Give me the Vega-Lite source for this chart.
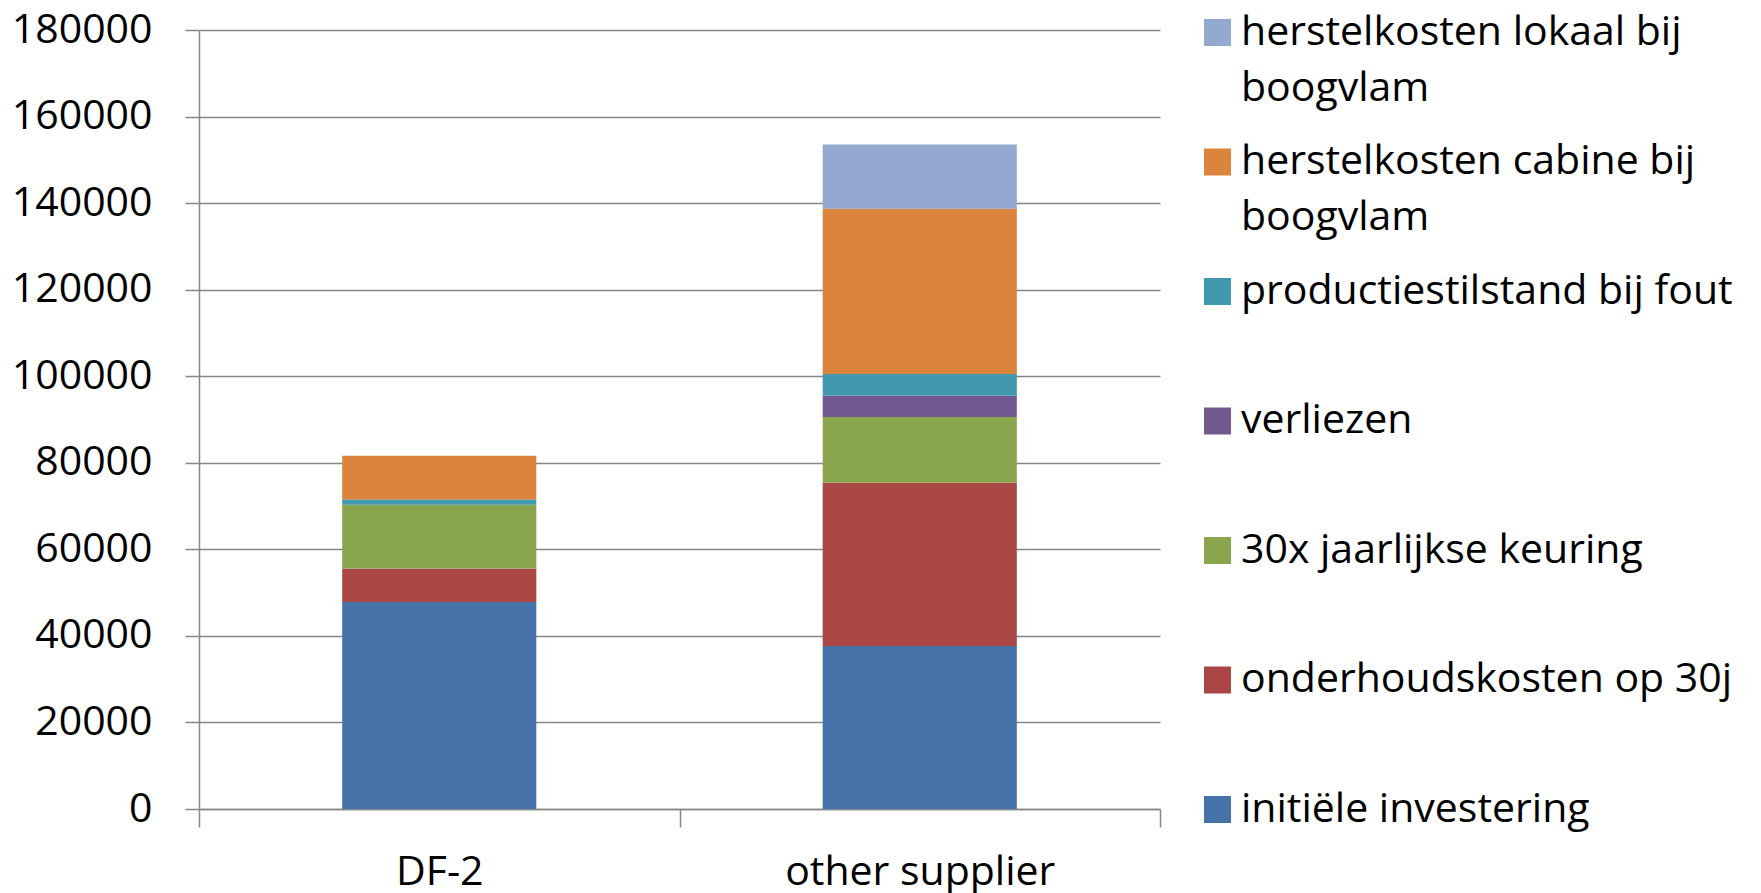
{
  "$schema": "https://vega.github.io/schema/vega-lite/v6.json",
  "autosize": {"type": "none"},
  "padding": {"left": 199, "top": 30, "right": 601, "bottom": 84},
  "width": 961,
  "height": 779,
  "background": "white",
  "data": {"values": [
    {"supplier": "DF-2", "cat": "initiële investering", "cost": 47850},
    {"supplier": "DF-2", "cat": "onderhoudskosten op 30j", "cost": 7720},
    {"supplier": "DF-2", "cat": "30x jaarlijkse keuring", "cost": 14710},
    {"supplier": "DF-2", "cat": "verliezen", "cost": 0},
    {"supplier": "DF-2", "cat": "productiestilstand bij fout", "cost": 1250},
    {"supplier": "DF-2", "cat": "herstelkosten cabine bij boogvlam", "cost": 10080},
    {"supplier": "DF-2", "cat": "herstelkosten lokaal bij boogvlam", "cost": 0},
    {"supplier": "other supplier", "cat": "initiële investering", "cost": 37670},
    {"supplier": "other supplier", "cat": "onderhoudskosten op 30j", "cost": 37700},
    {"supplier": "other supplier", "cat": "30x jaarlijkse keuring", "cost": 15190},
    {"supplier": "other supplier", "cat": "verliezen", "cost": 4930},
    {"supplier": "other supplier", "cat": "productiestilstand bij fout", "cost": 5020},
    {"supplier": "other supplier", "cat": "herstelkosten cabine bij boogvlam", "cost": 38160},
    {"supplier": "other supplier", "cat": "herstelkosten lokaal bij boogvlam", "cost": 14870}
  ]},
  "transform": [
    {"calculate": "indexof(['initiële investering', 'onderhoudskosten op 30j', '30x jaarlijkse keuring', 'verliezen', 'productiestilstand bij fout', 'herstelkosten cabine bij boogvlam', 'herstelkosten lokaal bij boogvlam'], datum.cat)", "as": "stackIdx"}
  ],
  "mark": {"type": "bar", "width": {"band": 0.404}},
  "encoding": {
    "x": {
      "field": "supplier", "type": "nominal", "sort": ["DF-2", "other supplier"],
      "scale": {"paddingInner": 0, "paddingOuter": 0},
      "axis": {
        "title": null, "labelAngle": 0, "tickBand": "extent", "tickSize": 18,
        "labelPadding": 25, "labelLimit": 1000, "labelFont": "Open Sans", "labelFontSize": 41, "labelColor": "#000000",
        "domainColor": "#868686", "tickColor": "#868686", "domainWidth": 1.5, "tickWidth": 1.5, "grid": false
      }
    },
    "y": {
      "field": "cost", "type": "quantitative", "stack": "zero",
      "scale": {"domain": [0, 180000], "nice": false},
      "axis": {
        "title": null, "values": [0, 20000, 40000, 60000, 80000, 100000, 120000, 140000, 160000, 180000],
        "format": "d", "tickSize": 14, "labelPadding": 33,
        "labelFont": "Open Sans", "labelFontSize": 41, "labelColor": "#000000",
        "domainColor": "#868686", "tickColor": "#868686", "domainWidth": 1.5, "tickWidth": 1.5,
        "grid": true, "gridColor": "#868686", "gridWidth": 1.5
      }
    },
    "order": {"field": "stackIdx", "type": "quantitative", "sort": "ascending"},
    "color": {
      "field": "cat", "type": "nominal",
      "sort": ["herstelkosten lokaal bij boogvlam", "herstelkosten cabine bij boogvlam", "productiestilstand bij fout", "verliezen", "30x jaarlijkse keuring", "onderhoudskosten op 30j", "initiële investering"],
      "scale": {
        "domain": ["herstelkosten lokaal bij boogvlam", "herstelkosten cabine bij boogvlam", "productiestilstand bij fout", "verliezen", "30x jaarlijkse keuring", "onderhoudskosten op 30j", "initiële investering"],
        "range": ["#93A9CF", "#DB843D", "#4198AF", "#71588F", "#89A54E", "#AA4643", "#4572A7"]
      },
      "legend": {
        "title": null, "orient": "none", "legendX": 998, "legendY": -18,
        "symbolType": "square", "symbolSize": 729, "symbolStrokeWidth": 0, "symbolOpacity": 1,
        "labelFont": "Open Sans", "labelFontSize": 41, "labelColor": "#000000", "labelLimit": 1000,
        "labelOffset": 3, "rowPadding": 31.5,
        "labelExpr": "datum.label == 'herstelkosten lokaal bij boogvlam' ? ['herstelkosten lokaal bij', 'boogvlam'] : datum.label == 'herstelkosten cabine bij boogvlam' ? ['herstelkosten cabine bij', 'boogvlam'] : [datum.label, '']"
      }
    }
  },
  "config": {"view": {"stroke": null}, "style": {"guide-label": {"lineHeight": 56}}}
}
